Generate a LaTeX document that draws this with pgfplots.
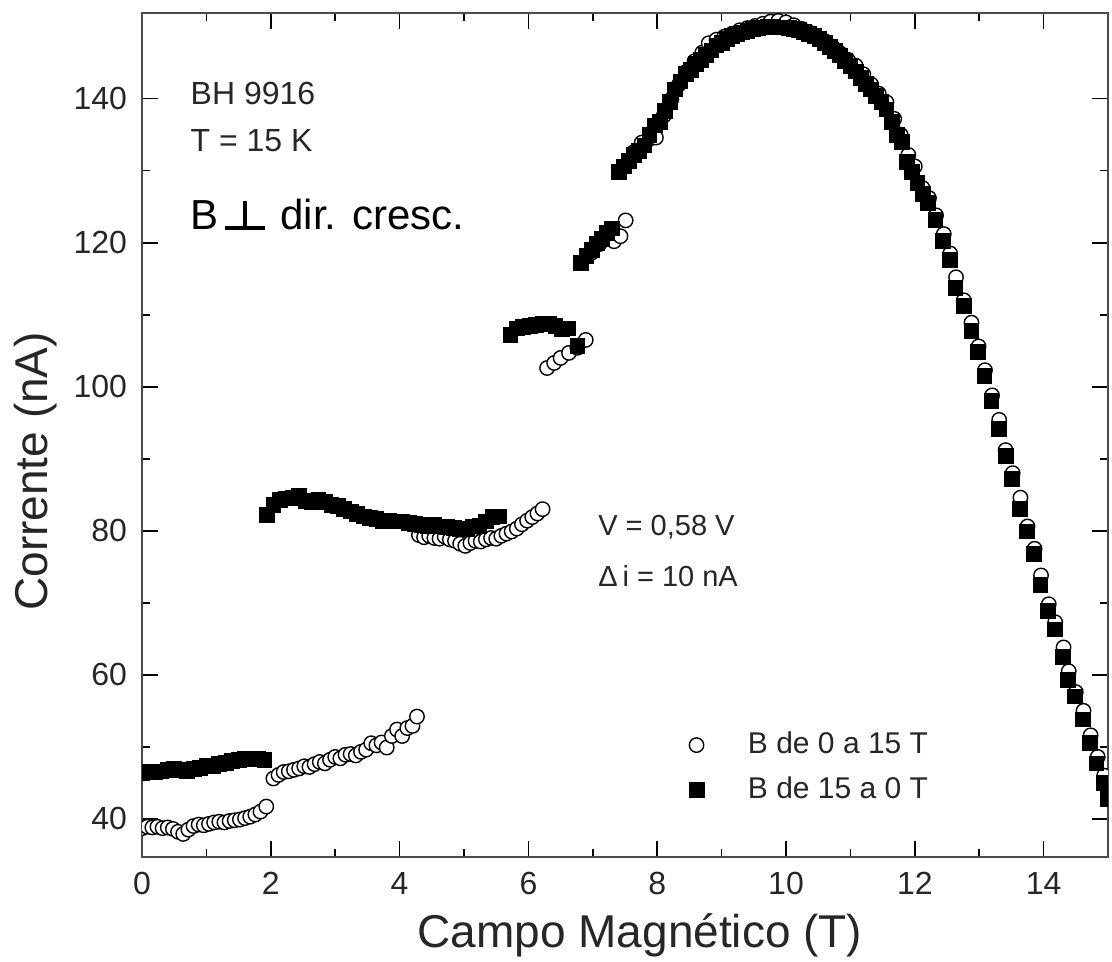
\documentclass[border=0pt]{standalone}
\usepackage{pgfplots}
\pgfplotsset{compat=1.18}
\usepackage{pgfplotstable}
\usepackage{fontspec}
\setmainfont{Liberation Sans}

% Field sweep up: B from 0 to 15 T
\pgfplotstableread{
x y
0.00 38.7
0.08 38.9
0.16 38.8
0.24 38.9
0.32 38.7
0.40 38.8
0.48 38.6
0.56 38.2
0.64 37.9
0.72 38.5
0.80 39.0
0.88 39.2
0.96 39.1
1.04 39.3
1.12 39.5
1.20 39.6
1.28 39.5
1.36 39.7
1.44 39.8
1.52 39.9
1.60 40.1
1.68 40.3
1.76 40.6
1.84 41.0
1.93 41.7
2.04 45.6
2.12 46.1
2.20 46.5
2.28 46.6
2.36 46.8
2.44 47.0
2.52 47.3
2.60 47.2
2.68 47.6
2.76 47.9
2.84 47.7
2.92 48.2
3.00 48.6
3.08 48.4
3.16 48.9
3.24 49.0
3.32 48.8
3.40 49.3
3.48 49.6
3.56 50.5
3.64 50.2
3.72 50.6
3.80 49.9
3.88 51.5
3.96 52.4
4.04 51.5
4.12 52.6
4.20 52.9
4.27 54.2
4.30 79.4
4.38 79.1
4.46 79.3
4.54 79.0
4.62 78.9
4.70 79.2
4.78 78.8
4.86 78.6
4.94 78.2
5.02 77.9
5.10 78.3
5.18 78.6
5.26 78.5
5.34 78.8
5.42 79.0
5.50 78.9
5.58 79.3
5.66 79.6
5.74 79.9
5.82 80.3
5.90 80.9
5.98 81.4
6.06 81.9
6.14 82.4
6.22 83.0
6.29 102.6
6.40 103.3
6.50 104.0
6.63 104.7
6.76 105.4
6.89 106.5
6.98 118.6
7.10 119.8
7.22 120.5
7.33 120.2
7.43 120.9
7.51 123.1
7.64 132.6
7.76 133.9
7.88 134.4
7.98 134.6
8.10 137.6
8.22 139.9
8.34 142.0
8.46 143.8
8.58 145.2
8.70 146.4
8.80 147.7
8.92 148.2
9.04 148.6
9.16 149.0
9.28 149.5
9.40 149.8
9.52 150.1
9.64 150.4
9.76 150.7
9.88 150.8
10.00 150.6
10.12 150.2
10.24 149.7
10.36 149.2
10.48 148.6
10.60 148.0
10.72 147.2
10.84 146.3
10.96 145.4
11.08 144.6
11.20 143.4
11.32 142.0
11.44 140.7
11.56 139.5
11.68 137.2
11.78 135.0
11.90 132.2
12.00 130.6
12.12 127.6
12.22 126.2
12.33 123.8
12.45 121.2
12.55 118.5
12.64 115.2
12.76 112.0
12.88 108.9
12.99 105.6
13.09 102.3
13.20 98.8
13.31 95.4
13.41 91.2
13.52 88.0
13.64 84.6
13.75 80.6
13.86 77.5
13.96 73.8
14.08 69.8
14.18 67.3
14.31 63.8
14.39 60.5
14.50 57.6
14.62 55.0
14.73 51.6
14.84 48.6
14.94 46.0
}\upsweep

% Field sweep down: B from 15 to 0 T
\pgfplotstableread{
x y
0.00 46.4
0.10 46.5
0.20 46.5
0.30 46.6
0.40 46.8
0.50 46.9
0.60 46.8
0.70 46.7
0.80 46.9
0.90 47.1
1.00 47.3
1.10 47.4
1.20 47.6
1.30 47.8
1.40 48.0
1.50 48.2
1.60 48.3
1.70 48.3
1.80 48.3
1.90 48.2
1.94 82.2
2.04 83.6
2.14 84.3
2.24 84.5
2.34 84.6
2.44 84.9
2.54 84.2
2.64 84.0
2.74 84.3
2.84 84.0
2.94 83.6
3.04 83.5
3.14 83.0
3.24 82.7
3.34 82.3
3.44 82.0
3.54 81.8
3.64 81.6
3.74 81.4
3.84 81.4
3.94 81.3
4.04 81.3
4.14 81.1
4.24 80.9
4.34 80.8
4.44 80.7
4.54 80.8
4.64 80.6
4.74 80.5
4.84 80.4
4.94 80.3
5.04 80.3
5.14 80.6
5.24 80.7
5.34 81.3
5.44 81.9
5.54 82.0
5.72 107.2
5.82 108.1
5.92 108.3
6.02 108.5
6.12 108.6
6.22 108.8
6.32 108.7
6.42 108.5
6.52 108.0
6.62 108.1
6.76 105.7
6.82 117.2
6.90 118.2
6.98 119.0
7.06 119.9
7.14 120.6
7.22 121.4
7.30 122.0
7.40 129.8
7.48 130.6
7.56 131.4
7.64 132.2
7.72 132.8
7.80 133.5
7.88 135.0
7.96 136.3
8.04 136.8
8.12 138.3
8.20 139.5
8.28 141.3
8.36 142.4
8.44 143.4
8.52 144.0
8.60 144.8
8.68 145.4
8.76 146.1
8.84 146.7
8.92 147.4
9.00 147.8
9.08 148.3
9.16 148.7
9.24 149.0
9.32 149.2
9.40 149.4
9.48 149.7
9.56 149.8
9.64 149.9
9.72 150.0
9.80 150.0
9.88 149.9
9.96 149.9
10.04 149.8
10.12 149.7
10.20 149.5
10.28 149.3
10.36 149.0
10.44 148.7
10.52 148.3
10.60 147.8
10.68 147.2
10.76 146.6
10.84 146.0
10.92 145.3
11.00 144.6
11.08 143.8
11.16 142.9
11.24 142.1
11.32 141.3
11.40 140.4
11.48 139.5
11.56 138.5
11.64 136.8
11.72 135.0
11.80 134.0
11.88 131.2
11.96 129.8
12.04 128.3
12.12 126.8
12.20 125.5
12.32 123.2
12.44 120.2
12.54 117.6
12.63 113.7
12.76 111.2
12.88 107.7
12.98 104.8
13.08 101.5
13.19 98.0
13.30 94.1
13.41 90.4
13.51 87.2
13.63 83.0
13.74 79.9
13.85 76.8
13.95 72.5
14.07 68.9
14.17 66.3
14.30 62.5
14.38 59.3
14.49 57.0
14.61 53.8
14.72 50.5
14.82 47.7
14.93 45.0
15.00 42.8
}\downsweep

\begin{document}
\begin{tikzpicture}
\useasboundingbox (0,0) rectangle (556pt,481pt);
\begin{axis}[
  at={(71pt,52.5pt)}, anchor=south west,
  scale only axis, width=483pt, height=422pt,
  xmin=0, xmax=15, ymin=34.7, ymax=151.9,
  xtick={0,2,...,14}, ytick={40,60,...,140},
  minor x tick num=1, minor y tick num=1,
  tick align=inside, tick pos=both,
  xticklabel pos=lower, yticklabel pos=left,
  major tick length=8pt, minor tick length=4pt,
  every tick/.style={black, line width=0.8pt},
  axis line style={black!70, line width=1.3pt},
  /pgf/number format/assume math mode=true,
  ticklabel style={font=\fontsize{16}{18}\selectfont, text=black!85},
  yticklabel style={xshift=-4pt},
  xticklabel style={yshift=-4pt},
  xlabel={Campo Magnético (T)},
  ylabel={Corrente (nA)},
  label style={font=\fontsize{23}{25}\selectfont, text=black!85},
  xlabel style={at={(axis description cs:0.5155,-0.1078)}, anchor=base},
  ylabel style={at={(axis description cs:-0.0983,0.457)}, anchor=base},
  clip marker paths=true,
  legend cell align=left,
  legend style={draw=none, fill=none, at={(axis description cs:0.566,0.152)},
    anchor=north west, inner sep=0pt, row sep=6.5pt,
    font=\fontsize{15}{17}\selectfont, text=black!85,
    nodes={inner sep=1pt, text height=11pt, text depth=3pt},
    /tikz/every odd column/.append style={column sep=21pt}},
]
\addplot[only marks, mark=*, mark size=3.6pt,
  mark options={draw=black, fill=white, line width=0.7pt}]
  table {\upsweep};
\addlegendentry{B de 0 a 15 T}
\addplot[only marks, mark=square*, mark size=3.7pt,
  mark options={draw=black, fill=black}]
  table {\downsweep};
\addlegendentry{B de 15 a 0 T}

% sample and measurement annotations
\node[anchor=base west, inner sep=0pt, text=black!85, font=\fontsize{16}{18}\selectfont]
  at (axis cs:0.75,139.2) {BH 9916};
\node[anchor=base west, inner sep=0pt, text=black!85, font=\fontsize{16}{18}\selectfont]
  at (axis cs:0.75,132.7) {T = 15 K};
\node[anchor=base west, inner sep=0pt, text=black, font=\fontsize{21}{23}\selectfont]
  at (axis cs:0.75,121.9) {B\hspace{0.16em}\rlap{\rule[-0.03em]{0.95em}{0.1em}}\hspace{0.425em}\rule[-0.03em]{0.1em}{0.7em}\hspace{0.425em}\hspace{0.36em}dir. cresc.};
\node[anchor=base west, inner sep=0pt, text=black!85, font=\fontsize{14.5}{17}\selectfont]
  at (axis cs:7.08,79.3) {V = 0,58 V};
\node[anchor=base west, inner sep=0pt, text=black!85, font=\fontsize{14.5}{17}\selectfont]
  at (axis cs:7.08,72.2) {Δ\,i = 10 nA};
\end{axis}
\end{tikzpicture}
\end{document}
